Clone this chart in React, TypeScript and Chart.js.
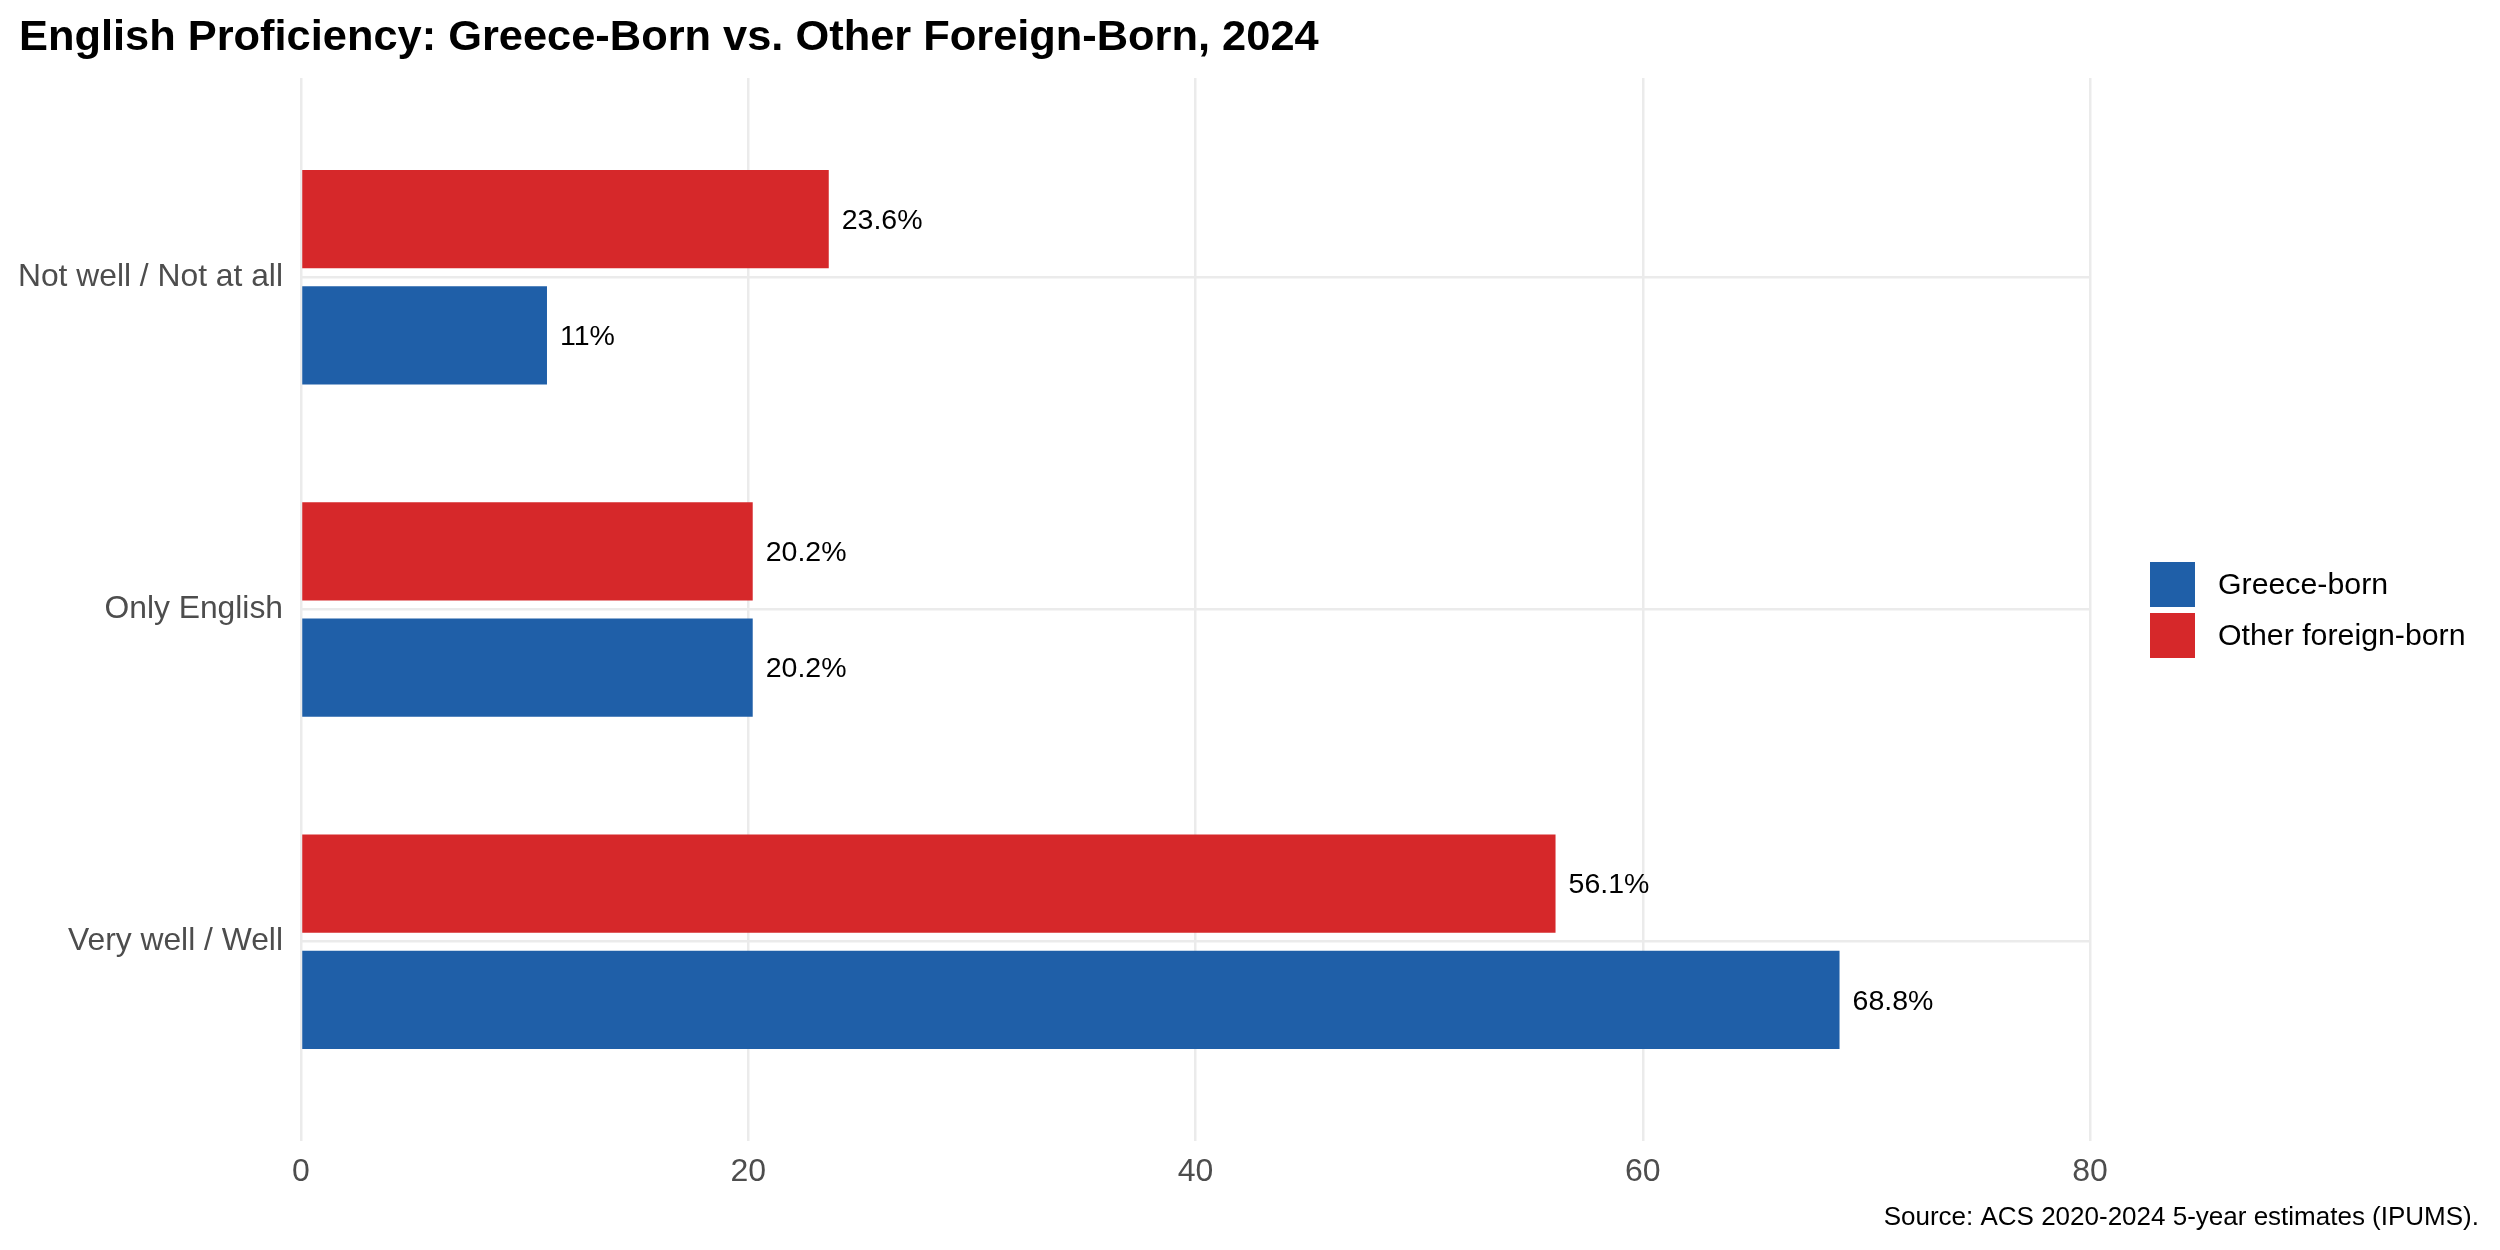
import React, { useEffect, useRef } from "react";
import { Chart, registerables } from "chart.js";

Chart.register(...registerables);

// Data (bottom to top order of categories)
const categories: string[] = ["Very well / Well", "Only English", "Not well / Not at all"];
const greeceBorn: number[] = [68.8, 20.2, 11];
const otherForeignBorn: number[] = [56.1, 20.2, 23.6];
const xTicks: number[] = [0, 20, 40, 60, 80];
const seriesLabels: string[] = ["Greece-born", "Other foreign-born"];

const TITLE = "English Proficiency: Greece-Born vs. Other Foreign-Born, 2024";
const CAPTION = "Source: ACS 2020-2024 5-year estimates (IPUMS).";

const BLUE = "#1f5fa8";
const RED = "#d6282a";
const GRID = "#ebebeb";
const FONT = "'Liberation Sans', Arial, Helvetica, sans-serif";

const decorPlugin = {
  id: "decor",
  afterDatasetsDraw(chart: any) {
    const ctx = chart.ctx;
    ctx.save();
    ctx.font = `28.5px ${FONT}`;
    ctx.fillStyle = "#000000";
    ctx.textAlign = "left";
    ctx.textBaseline = "middle";
    chart.data.datasets.forEach((ds: any, di: number) => {
      const meta = chart.getDatasetMeta(di);
      meta.data.forEach((el: any, i: number) => {
        const v = ds.data[i].x;
        ctx.fillText(`${v}%`, el.x + 13, el.y + 2);
      });
    });
    ctx.restore();
  },
  afterDraw(chart: any) {
    const ctx = chart.ctx;
    ctx.save();
    // Title
    ctx.font = `bold 43.4px ${FONT}`;
    ctx.fillStyle = "#000000";
    ctx.textAlign = "left";
    ctx.textBaseline = "alphabetic";
    ctx.fillText(TITLE, 19, 50);
    // Caption
    ctx.font = `26px ${FONT}`;
    ctx.textAlign = "right";
    ctx.fillText(CAPTION, 2479, 1225);
    // Legend
    const items = [
      { label: seriesLabels[0], color: BLUE },
      { label: seriesLabels[1], color: RED },
    ];
    const boxX = 2150;
    const boxSize = 45;
    const startY = 562;
    const step = 51;
    ctx.font = `30.3px ${FONT}`;
    ctx.textAlign = "left";
    ctx.textBaseline = "middle";
    items.forEach((it, i) => {
      const y = startY + i * step;
      ctx.fillStyle = it.color;
      ctx.fillRect(boxX, y, boxSize, boxSize);
      ctx.fillStyle = "#000000";
      ctx.fillText(it.label, 2218, y + boxSize / 2 + 1);
    });
    ctx.restore();
  },
};

export default function App() {
  const canvasRef = useRef<HTMLCanvasElement | null>(null);

  useEffect(() => {
    document.body.style.margin = "0";
    const canvas = canvasRef.current;
    if (!canvas) return;
    const chart = new Chart(canvas, {
      type: "bar",
      data: {
        datasets: [
          {
            label: seriesLabels[1],
            data: otherForeignBorn.map((v, i) => ({ x: v, y: i })),
            backgroundColor: RED,
            borderWidth: 0,
          },
          {
            label: seriesLabels[0],
            data: greeceBorn.map((v, i) => ({ x: v, y: i })),
            backgroundColor: BLUE,
            borderWidth: 0,
          },
        ],
      },
      plugins: [decorPlugin],
      options: {
        indexAxis: "y",
        animation: false,
        responsive: true,
        maintainAspectRatio: false,
        devicePixelRatio: 1,
        categoryPercentage: 0.7,
        barPercentage: 0.845,
        layout: { padding: { left: 0, right: 410, top: 78, bottom: 0 } },
        plugins: {
          legend: { display: false },
          title: { display: false },
          tooltip: { enabled: false },
        },
        scales: {
          x: {
            type: "linear",
            min: 0,
            max: 80,
            offset: false,
            afterBuildTicks: (scale: any) => {
              scale.ticks = xTicks.map((v) => ({ value: v }));
            },
            afterFit: (scale: any) => {
              scale.height = 109;
            },
            grid: { color: GRID, lineWidth: 2.5, drawTicks: false, offset: false },
            border: { display: false },
            ticks: {
              padding: 12,
              color: "#4d4d4d",
              font: { family: FONT, size: 32 },
            },
          },
          y: {
            type: "linear",
            min: -0.6,
            max: 2.6,
            offset: false,
            afterBuildTicks: (scale: any) => {
              scale.ticks = categories.map((_, i) => ({ value: i }));
            },
            afterFit: (scale: any) => {
              scale.width = 301;
            },
            grid: { color: GRID, lineWidth: 2.5, drawTicks: false, offset: false },
            border: { display: false },
            ticks: {
              padding: 18,
              color: "#4d4d4d",
              font: { family: FONT, size: 31.8 },
              callback: (value: any) => categories[value as number] ?? "",
            },
          },
        },
      } as any,
    });
    return () => chart.destroy();
  }, []);

  return (
    <div style={{ position: "fixed", left: 0, top: 0, width: 2500, height: 1250, background: "#ffffff" }}>
      <canvas ref={canvasRef} />
    </div>
  );
}
